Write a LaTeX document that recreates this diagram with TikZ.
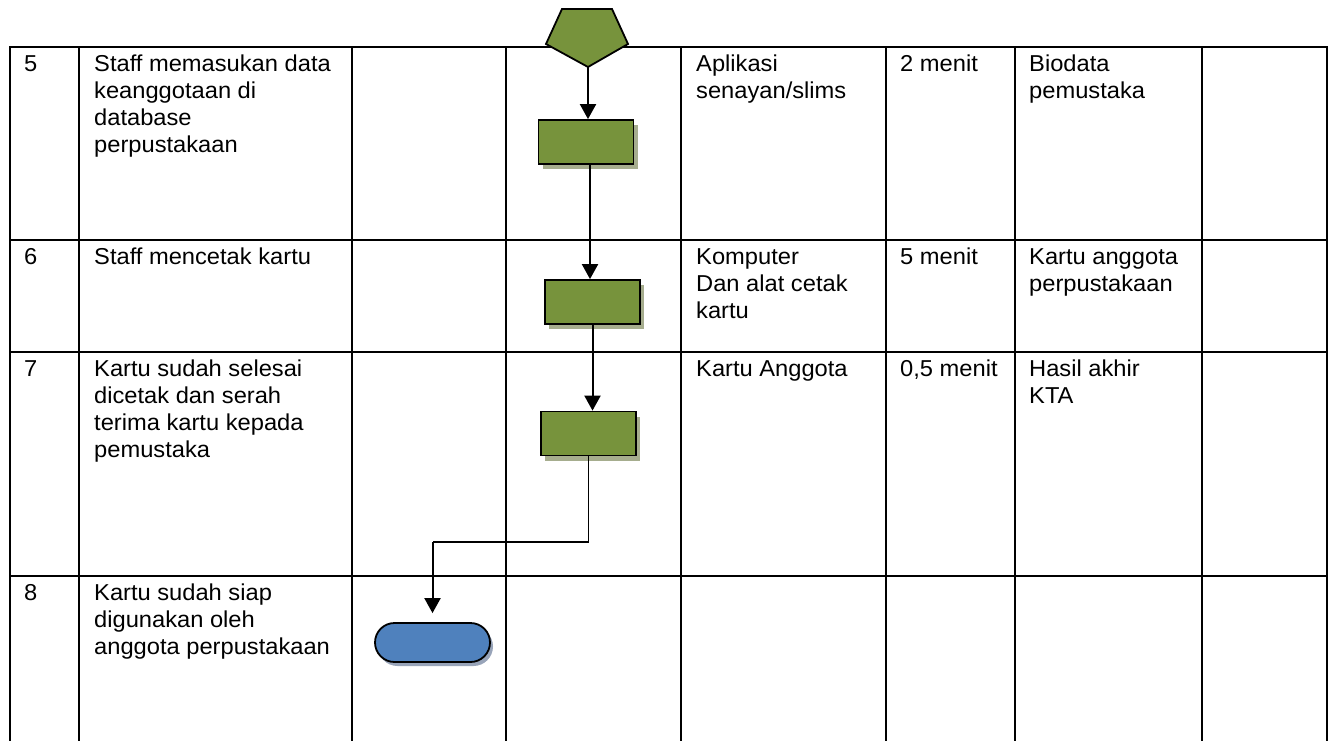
\documentclass[tikz,border=0pt]{standalone}
\usepackage{fontspec}
\setmainfont{Liberation Sans}[FakeStretch=1.03]
\usetikzlibrary{arrows.meta,shadows}

\definecolor{procgreen}{HTML}{77933C}
\definecolor{procshade}{HTML}{A6AD8E}
\definecolor{endblue}{HTML}{4F81BD}
\definecolor{endshade}{HTML}{98A4B9}

\tikzset{
  tablerule/.style={line width=2pt, line cap=rect, black},
  cell/.style={anchor=north west, inner sep=0pt, align=left,
    font=\fontsize{23}{27}\selectfont},
  procbox/.style={draw=black, line width=1.8pt, fill=procgreen,
    minimum width=95pt, minimum height=44pt, inner sep=0pt,
    drop shadow={shadow xshift=4pt, shadow yshift=-5pt, fill=procshade, opacity=1}},
  endbox/.style={draw=black, line width=1.8pt, fill=endblue,
    minimum width=115pt, minimum height=39pt, inner sep=0pt, rounded corners=19.5pt,
    drop shadow={shadow xshift=3pt, shadow yshift=-4pt, fill=endshade, opacity=1}},
  flow/.style={line width=2pt, -{Triangle[length=15pt,width=16pt]}},
  thinflow/.style={line width=1.3pt},
}

\begin{document}
\begin{tikzpicture}[x=1pt,y=-1pt]
\useasboundingbox (0,0) rectangle (1336,740);

% table grid
\foreach \x in {10,79,352,506,681,886,1015,1202,1327}
  \draw[tablerule] (\x,47) -- (\x,740);
\foreach \y in {47,240,352,576}
  \draw[tablerule] (10,\y) -- (1327,\y);

% row 5
\node[cell] (n5) at (24,55) {5};
\node[cell] (d5) at (94,55) {Staff memasukan data\\keanggotaan di\\database\\perpustakaan};
\node[cell] (r5) at (696,55) {Aplikasi\\senayan/slims};
\node[cell] (w5) at (900,55) {2 menit};
\node[cell] (o5) at (1029,55) {Biodata\\pemustaka};

% row 6
\node[cell] (n6) at (24,248) {6};
\node[cell] (d6) at (94,248) {Staff mencetak kartu};
\node[cell] (r6) at (696,248) {Komputer\\Dan alat cetak\\kartu};
\node[cell] (w6) at (900,248) {5 menit};
\node[cell] (o6) at (1029,248) {Kartu anggota\\perpustakaan};

% row 7
\node[cell] (n7) at (24,360) {7};
\node[cell] (d7) at (94,360) {Kartu sudah selesai\\dicetak dan serah\\terima kartu kepada\\pemustaka};
\node[cell] (r7) at (696,360) {Kartu Anggota};
\node[cell] (w7) at (900,360) {0,5 menit};
\node[cell] (o7) at (1029,360) {Hasil akhir\\KTA};

% row 8
\node[cell] (n8) at (24,584) {8};
\node[cell] (d8) at (94,584) {Kartu sudah siap\\digunakan oleh\\anggota perpustakaan};

% off-page connector at the top
\draw[line width=1.8pt, fill=procgreen, line join=miter]
  (562,9) -- (612,9) -- (628,44) -- (588,67) -- (546,44) -- cycle;
\coordinate (pentbot) at (588,67);

% process steps and terminator
\node[procbox] (b1) at (586,142) {};
\node[procbox] (b2) at (592.5,302) {};
\node[procbox] (b3) at (588.5,433.5) {};
\node[endbox] (term) at (432.5,642.5) {};
\coordinate (elbow) at (588.5,542);

% flow connectors
\draw[flow] (pentbot) -- (pentbot |- b1.north);
\draw[flow] ([xshift=4pt]b1.south) -- ([xshift=4pt]b1.south |- b2.north);
\draw[flow] (b2.south) -- (b2.south |- b3.north);
\draw[thinflow] (b3.south) -- (elbow) -- (elbow -| term.north);
\draw[flow] (elbow -| term.north) -- ([yshift=9pt]term.north);
\end{tikzpicture}
\end{document}
